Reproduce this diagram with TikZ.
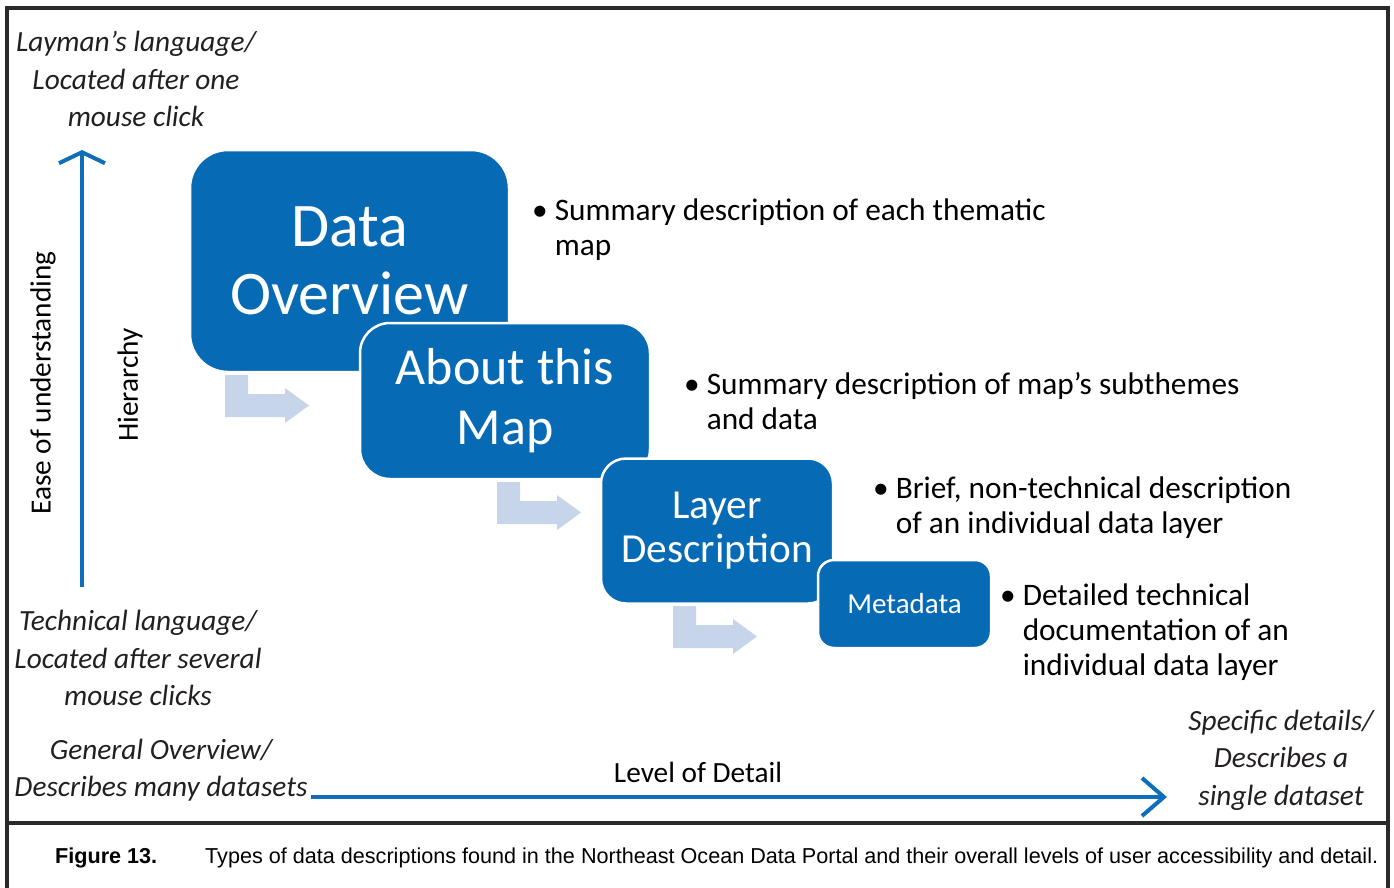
\documentclass[tikz,border=0pt]{standalone}
\usepackage{fontspec}
\setmainfont{Carlito}
\newfontfamily\captionfont{Liberation Sans}
\usetikzlibrary{arrows.meta}

\definecolor{boxblue}{HTML}{076AB4}
\definecolor{hintblue}{HTML}{C6D5EA}
\definecolor{axisblue}{HTML}{0E6EB8}
\definecolor{framegray}{HTML}{2A2A2A}
\definecolor{labelgray}{HTML}{231F20}

\begin{document}
\begin{tikzpicture}[x=1pt, y=-1pt,
  levelbox/.style={draw=white, line width=2.5pt, fill=boxblue, text=white, align=center, inner sep=0pt},
  hint/.style={fill=hintblue},
  axis/.style={draw=axisblue, line width=4pt},
  frame/.style={draw=framegray, line width=4pt, line join=miter},
  note/.style={font=\fontsize{29.3}{37.5}\selectfont\itshape, text=labelgray, align=center, inner sep=0pt},
  bullet/.style={font=\fontsize{31.3}{35}\selectfont, anchor=base west, inner sep=0pt},
  axislabel/.style={font=\fontsize{29.3}{32}\selectfont, text=black, inner sep=0pt}]

\useasboundingbox (0,0) rectangle (1394,888);

% Outer frame and the caption panel below it
\draw[frame] (7,900) -- (7,8) -- (1388,8) -- (1388,900);
\draw[frame, line width=4.5pt] (7,823) -- (1388,823);

% Bent hint arrows between the levels
\foreach \x/\y in {225/375, 497/482, 673/606}
{
  \fill[hint, shift={(\x,\y)}] (0,0) -- (23,0) -- (23,19) -- (60,19) -- (60,13)
    -- (84,30.5) -- (60,48) -- (60,42) -- (0,42) -- cycle;
}

% The four levels, each one laid over the one before
\node[levelbox, minimum width=319pt, minimum height=222pt, rounded corners=38pt,
  font=\fontsize{62}{68}\selectfont] (overview) at (349.5,261) {Data\\Overview};
\node[levelbox, minimum width=290pt, minimum height=156pt, rounded corners=30pt,
  font=\fontsize{52}{60}\selectfont] (aboutmap) at (505,401) {About this\\Map};
\node[levelbox, minimum width=232pt, minimum height=145pt, rounded corners=25pt,
  font=\fontsize{41.3}{44}\selectfont] (layerdesc) at (717,531) {Layer\\Description};
\node[levelbox, minimum width=173pt, minimum height=88pt, rounded corners=16pt,
  font=\fontsize{29}{32}\selectfont] (metadata) at (904.5,604) {Metadata};

% Bullet notes beside each level
\node[bullet] (overviewnote) at (532,220) {\begin{tabular}[t]{@{}l@{\hspace{7pt}}l@{}}
  \textbullet & Summary description of each thematic\\ & map\end{tabular}};
\node[bullet] (aboutnote) at (684,394) {\begin{tabular}[t]{@{}l@{\hspace{7pt}}l@{}}
  \textbullet & Summary description of map's subthemes\\ & and data\end{tabular}};
\node[bullet] (layernote) at (873,498) {\begin{tabular}[t]{@{}l@{\hspace{7pt}}l@{}}
  \textbullet & Brief, non-technical description\\ & of an individual data layer\end{tabular}};
\node[bullet] (metanote) at (1000,605) {\begin{tabular}[t]{@{}l@{\hspace{7pt}}l@{}}
  \textbullet & Detailed technical\\ & documentation of an\\ & individual data layer\end{tabular}};

% Vertical axis: ease of understanding
\coordinate (ytail) at (82,587);
\coordinate (yhead) at (82,150);
\draw[axis, -{Straight Barb[length=11pt,width=46pt]}] (ytail) -- (yhead);
\node[axislabel, rotate=90] (ease) at (43,383) {Ease of understanding};
\node[axislabel, rotate=90] (hierarchy) at (130,385) {Hierarchy};

% Horizontal axis: level of detail
\coordinate (xtail) at (311,797);
\coordinate (xhead) at (1167,797);
\draw[axis, -{Straight Barb[length=22pt,width=38pt]}] (xtail) -- (xhead);
\node[axislabel] (detail) at (698,772) {Level of Detail};

% Axis end notes
\node[note] (layman) at (136,79) {Layman’s language/\\Located after one\\mouse click};
\node[note] (technical) at (138,658) {Technical language/\\Located after several\\mouse clicks};
\node[note] (general) at (161,770) {General Overview/\\Describes many datasets};
\node[note] (specific) at (1281,760) {Specific details/\\Describes a\\single dataset};

% Caption
\node[anchor=west, inner sep=0pt, font=\captionfont\fontsize{21.6}{24}\selectfont] (caption) at (55,858)
  {\textbf{Figure 13.}\hspace{48pt}Types of data descriptions found in the Northeast Ocean Data Portal and their overall levels of user accessibility and detail.};

\end{tikzpicture}
\end{document}
